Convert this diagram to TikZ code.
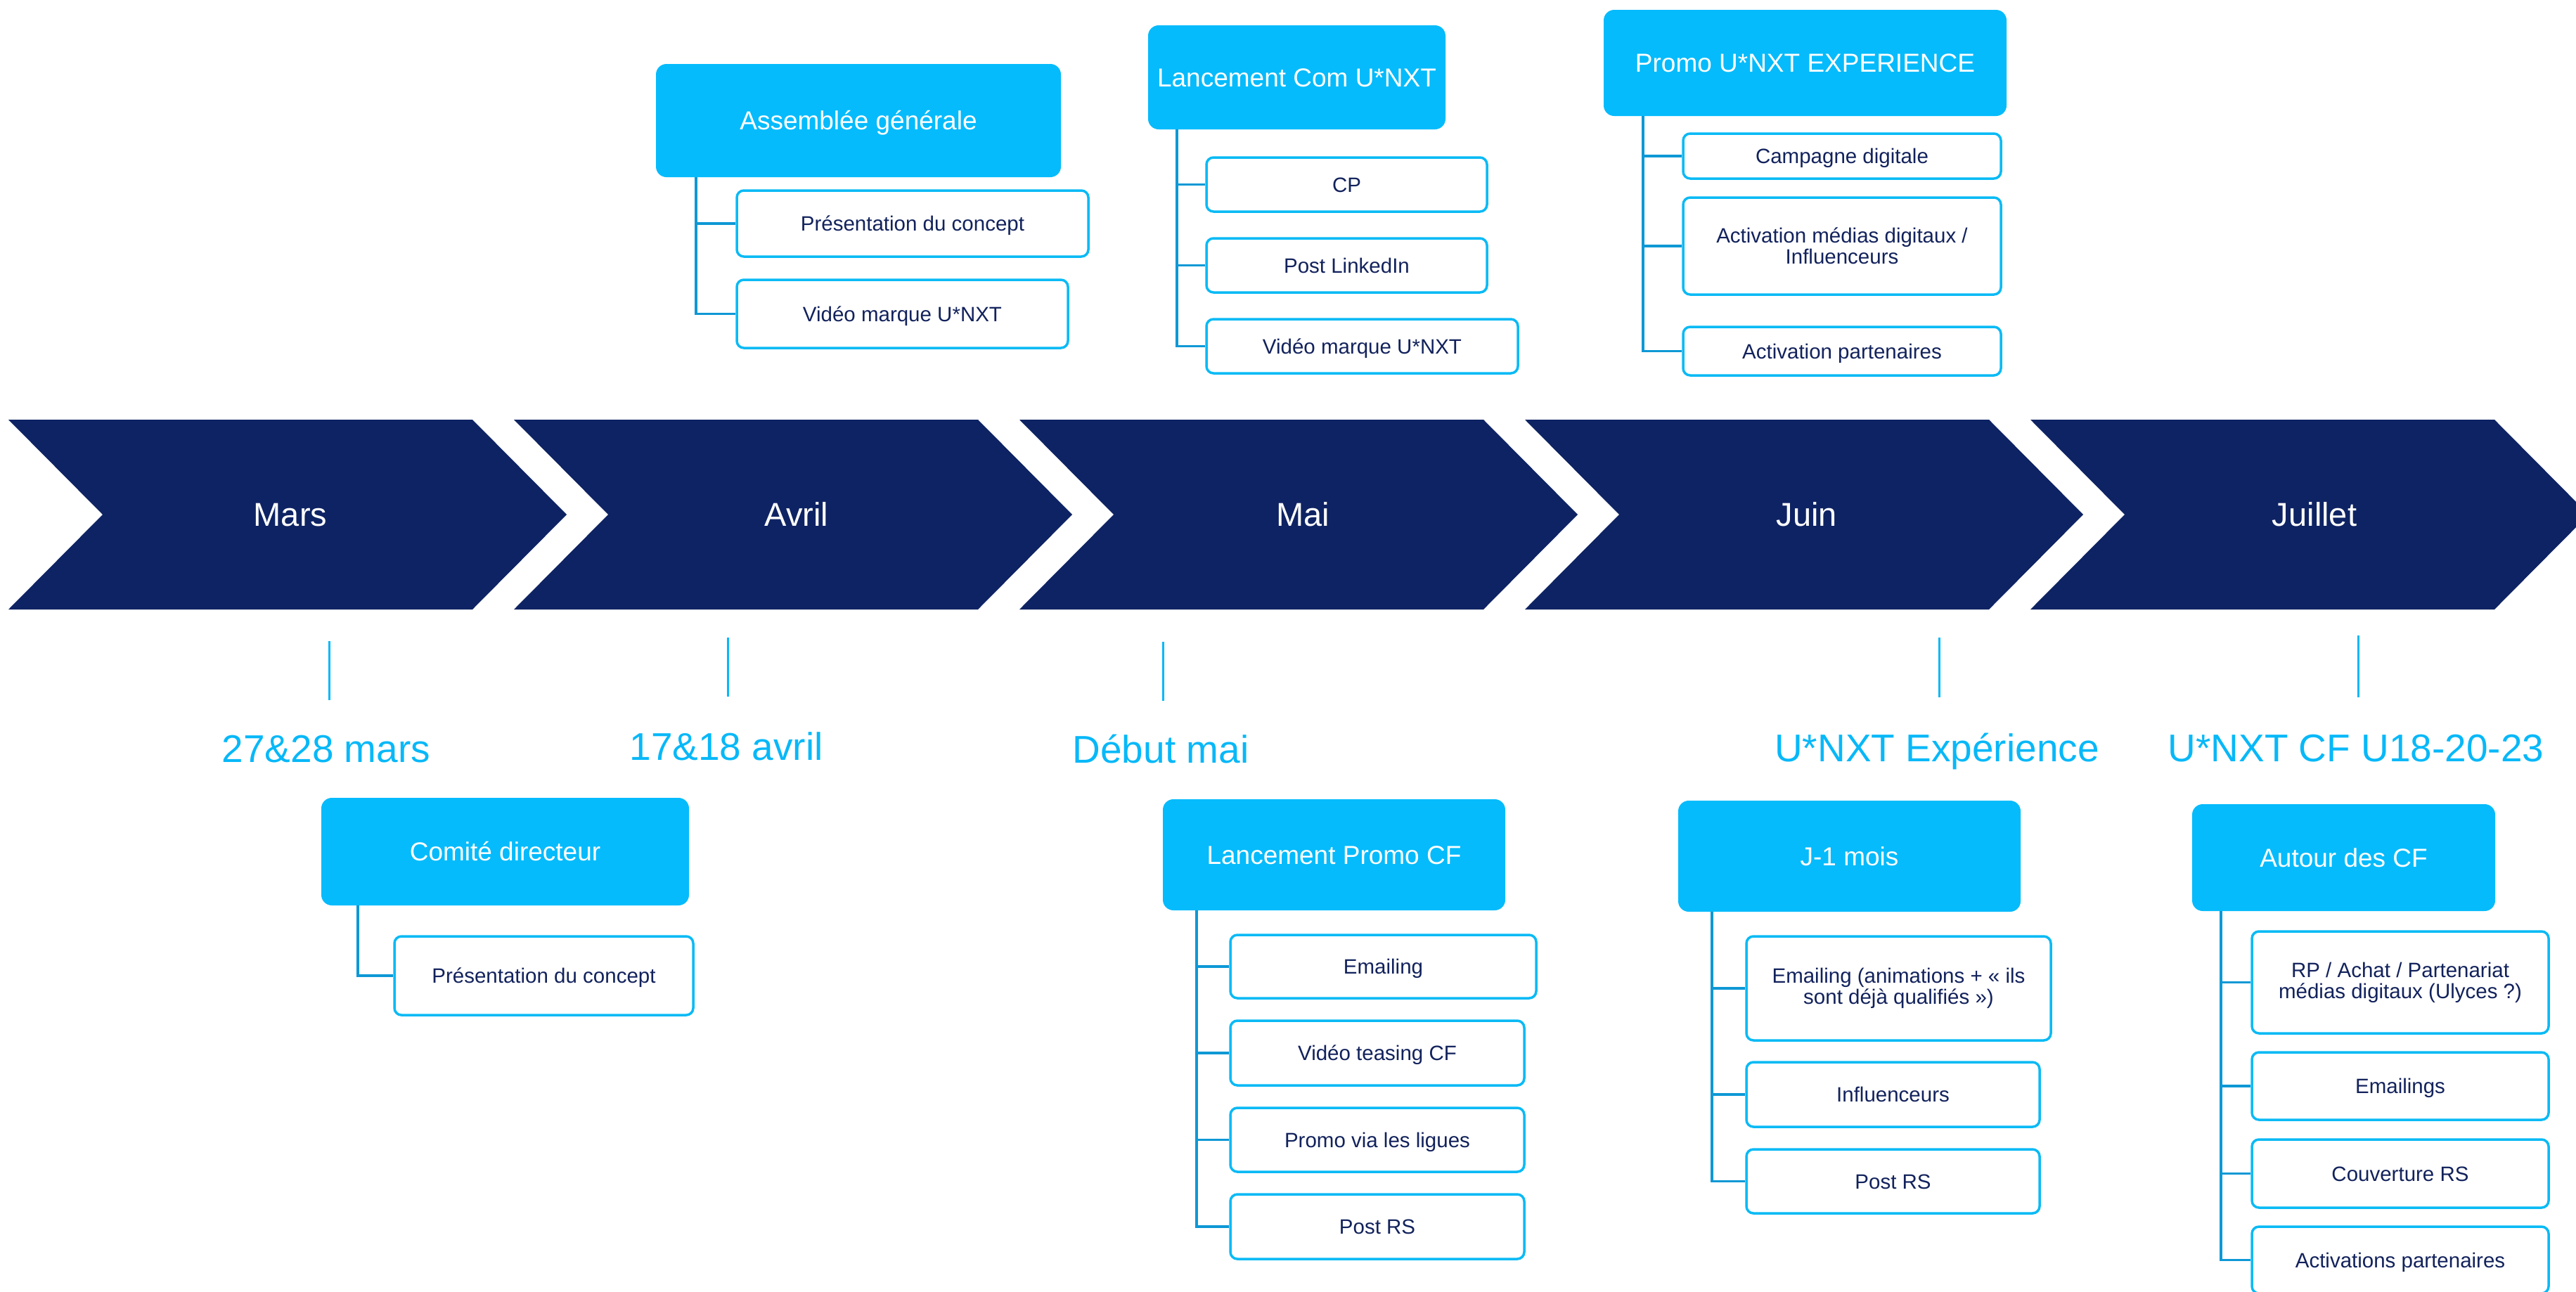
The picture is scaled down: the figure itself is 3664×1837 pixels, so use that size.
\documentclass[tikz,border=0pt]{standalone}
\usepackage{fontspec}
\setmainfont{Liberation Sans}
\definecolor{navy}{RGB}{14,35,99}
\definecolor{cyanfill}{RGB}{5,187,252}
\definecolor{boxline}{RGB}{10,186,245}
\definecolor{trunkcol}{RGB}{14,152,213}
\definecolor{datecol}{RGB}{8,184,248}
\definecolor{txtnavy}{RGB}{18,34,92}
\tikzset{
  month/.style={text=white, font=\fontsize{47}{47}\selectfont, inner sep=0pt, text height=33.6pt, text depth=0pt},
  datelbl/.style={text=datecol, font=\fontsize{55}{55}\selectfont, inner sep=0pt, anchor=base},
  hdr/.style={fill=cyanfill, draw=none, rounded corners=15pt, text=white, font=\fontsize{37}{37}\selectfont, inner sep=0pt, text height=26.5pt, text depth=0pt},
  item/.style={draw=boxline, line width=3.5pt, fill=white, rounded corners=10pt, text=txtnavy, font=\fontsize{29.5}{30}\selectfont, inner sep=0pt},
  oneline/.style={text height=21pt, text depth=0pt},
  trunk/.style={draw=trunkcol, line width=3.5pt},
  tickline/.style={draw=datecol, line width=3pt}
}
\begin{document}
\begin{tikzpicture}[x=1pt,y=-1pt]
\useasboundingbox (0,0) rectangle (3664,1837);
\clip (0,0) rectangle (3664,1837);
% chevrons
\foreach \L in {12,731,1450,2169,2888}{
  \fill[navy] (\L,597) -- ({\L+660},597) -- ({\L+794},732) -- ({\L+660},867) -- (\L,867) -- ({\L+134},732) -- cycle;
}
\node[month] (mMars) at (413,732) {Mars};
\node[month] (mAvril) at (1133,732) {Avril};
\node[month] (mMai) at (1853,732) {Mai};
\node[month] (mJuin) at (2570,732) {Juin};
\node[month] (mJuillet) at (3292,732) {Juillet};

% ticks
\coordinate (k1a) at (468,912); \coordinate (k1b) at (468,996);
\coordinate (k2a) at (1035,907); \coordinate (k2b) at (1035,991);
\coordinate (k3a) at (1654,913); \coordinate (k3b) at (1654,997);
\coordinate (k4a) at (2758,907); \coordinate (k4b) at (2758,992);
\coordinate (k5a) at (3354,904); \coordinate (k5b) at (3354,992);
\foreach \k in {1,...,5}{ \draw[tickline] (k\k a) -- (k\k b); }

% date labels
\node[datelbl] (d1) at (464,1084) {27\&28 mars};
\node[datelbl] (d2) at (1033,1081) {17\&18 avril};
\node[datelbl] (d3) at (1651,1085) {Début mai};
\node[datelbl] (d4) at (2755,1083) {U*NXT Expérience};
\node[datelbl] (d5) at (3351,1083) {U*NXT CF U18-20-23};

% Group A
\node[hdr, minimum width=576pt, minimum height=161pt] (hA) at (1221,171.5) {Assemblée générale};
\node[item, oneline, minimum width=500pt, minimum height=94pt] (cA1) at (1298,318) {Présentation du concept};
\node[item, oneline, minimum width=471pt, minimum height=97pt] (cA2) at (1283.5,446.5) {Vidéo marque U*NXT};
\coordinate (tA) at (990,252);
\draw[trunk] (tA) |- (cA1.west);
\draw[trunk] (tA) |- (cA2.west);

% Group B
\node[hdr, minimum width=423pt, minimum height=148pt] (hB) at (1844.5,110) {Lancement Com U*NXT};
\node[item, oneline, minimum width=399pt, minimum height=77pt] (cB1) at (1915.5,262.5) {CP};
\node[item, oneline, minimum width=399pt, minimum height=77pt] (cB2) at (1915.5,377.5) {Post LinkedIn};
\node[item, oneline, minimum width=443pt, minimum height=77pt] (cB3) at (1937.5,492.5) {Vidéo marque U*NXT};
\coordinate (tB) at (1674,184);
\draw[trunk] (tB) |- (cB1.west);
\draw[trunk] (tB) |- (cB2.west);
\draw[trunk] (tB) |- (cB3.west);

% Group C
\node[hdr, minimum width=573pt, minimum height=151pt] (hC) at (2567.5,89.5) {Promo U*NXT EXPERIENCE};
\node[item, oneline, minimum width=452pt, minimum height=64pt] (cC1) at (2620,222) {Campagne digitale};
\node[item, align=center, minimum width=452pt, minimum height=138pt] (cC2) at (2620,350) {Activation médias digitaux /\\Influenceurs};
\node[item, oneline, minimum width=452pt, minimum height=69pt] (cC3) at (2620,499.5) {Activation partenaires};
\coordinate (tC) at (2337,165);
\draw[trunk] (tC) |- (cC1.west);
\draw[trunk] (tC) |- (cC2.west);
\draw[trunk] (tC) |- (cC3.west);

% Group D
\node[hdr, minimum width=523pt, minimum height=153pt] (hD) at (718.5,1211.5) {Comité directeur};
\node[item, oneline, minimum width=425pt, minimum height=112pt] (cD1) at (773.5,1388) {Présentation du concept};
\coordinate (tD) at (509,1288);
\draw[trunk] (tD) |- (cD1.west);

% Group E
\node[hdr, minimum width=487pt, minimum height=158pt] (hE) at (1897.5,1216) {Lancement Promo CF};
\node[item, oneline, minimum width=435pt, minimum height=90pt] (cE1) at (1967.5,1375) {Emailing};
\node[item, oneline, minimum width=418pt, minimum height=92pt] (cE2) at (1959,1498) {Vidéo teasing CF};
\node[item, oneline, minimum width=418pt, minimum height=91pt] (cE3) at (1959,1621.5) {Promo via les ligues};
\node[item, oneline, minimum width=418pt, minimum height=92pt] (cE4) at (1959,1745) {Post RS};
\coordinate (tE) at (1702,1295);
\draw[trunk] (tE) |- (cE1.west);
\draw[trunk] (tE) |- (cE2.west);
\draw[trunk] (tE) |- (cE3.west);
\draw[trunk] (tE) |- (cE4.west);

% Group F
\node[hdr, minimum width=487pt, minimum height=158pt] (hF) at (2630.5,1218) {J-1 mois};
\node[item, align=center, minimum width=433pt, minimum height=148pt] (cF1) at (2700.5,1406) {Emailing (animations + « ils\\sont déjà qualifiés »)};
\node[item, oneline, minimum width=417pt, minimum height=92pt] (cF2) at (2692.5,1557) {Influenceurs};
\node[item, oneline, minimum width=417pt, minimum height=91pt] (cF3) at (2692.5,1680.5) {Post RS};
\coordinate (tF) at (2435,1297);
\draw[trunk] (tF) |- (cF1.west);
\draw[trunk] (tF) |- (cF2.west);
\draw[trunk] (tF) |- (cF3.west);

% Group G
\node[hdr, minimum width=431pt, minimum height=152pt] (hG) at (3333.5,1220) {Autour des CF};
\node[item, align=center, minimum width=422pt, minimum height=145pt] (cG1) at (3414,1397.5) {RP / Achat / Partenariat\\médias digitaux (Ulyces ?)};
\node[item, oneline, minimum width=422pt, minimum height=96pt] (cG2) at (3414,1545) {Emailings};
\node[item, oneline, minimum width=422pt, minimum height=97pt] (cG3) at (3414,1669.5) {Couverture RS};
\node[item, oneline, minimum width=422pt, minimum height=95pt] (cG4) at (3414,1792.5) {Activations partenaires};
\coordinate (tG) at (3159,1296);
\draw[trunk] (tG) |- (cG1.west);
\draw[trunk] (tG) |- (cG2.west);
\draw[trunk] (tG) |- (cG3.west);
\draw[trunk] (tG) |- (cG4.west);
\end{tikzpicture}
\end{document}
